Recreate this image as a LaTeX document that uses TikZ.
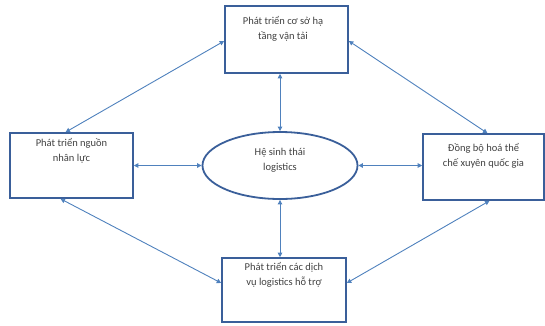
\documentclass[tikz,border=0pt]{standalone}
\usepackage{fontspec}
\setmainfont{Carlito}
\usetikzlibrary{arrows.meta,shapes.geometric}
\definecolor{boxblue}{HTML}{3A5F9A}
\definecolor{arrblue}{HTML}{4F81BD}
\definecolor{txtgray}{HTML}{404040}
\begin{document}
\begin{tikzpicture}[x=1pt,y=-1pt,
  box/.style={draw=boxblue,line width=1.6pt,rectangle,inner sep=0pt},
  eco/.style={draw=boxblue,line width=1.8pt,ellipse,inner sep=0pt,minimum width=155pt,minimum height=67pt},
  lbl/.style={text=txtgray,font=\fontsize{10.5}{15}\selectfont,align=center,inner sep=0pt,anchor=north},
  conn/.style={draw=arrblue,line width=0.9pt,{Triangle[length=4.5pt,width=4.5pt]}-{Triangle[length=4.5pt,width=4.5pt]}}]
\useasboundingbox (0,0) rectangle (545,325);
\node[box,minimum width=123pt,minimum height=67pt] (top) at (286.5,39.5) {};
\node[box,minimum width=123pt,minimum height=65pt] (left) at (71.5,165.5) {};
\node[box,minimum width=121pt,minimum height=66pt] (right) at (483.5,167) {};
\node[box,minimum width=124pt,minimum height=64pt] (bot) at (284,290) {};
\node[eco] (eco) at (280,165.5) {};
\node[lbl] (ttop) at (283,16) {Phát triển cơ sở hạ\\tầng vận tải};
\node[lbl] (tleft) at (71.5,138) {Phát triển nguồn\\nhân lực};
\node[lbl] (teco) at (280,148) {Hệ sinh thái\\logistics};
\node[lbl] (tright) at (483.5,143) {Đồng bộ hoá thể\\chế xuyên quốc gia};
\node[lbl] (tbot) at (284,262) {Phát triển các dịch\\vụ logistics hỗ trợ};
\draw[conn] (top.south -| eco.north) -- (eco.north);
\draw[conn] (eco.south) -- (eco.south |- bot.north);
\draw[conn] (left.east |- eco.west) -- (eco.west);
\draw[conn] (eco.east) -- (eco.east -| right.west);
\draw[conn] ([yshift=-1.5pt]top.west) -- ([xshift=-6pt]left.north);
\draw[conn] ([yshift=-1.5pt]top.east) -- ([xshift=4pt]right.north);
\draw[conn] ([xshift=-11pt]left.south) -- ([yshift=7pt]bot.west);
\draw[conn] ([xshift=6pt]right.south) -- ([yshift=7pt]bot.east);
\end{tikzpicture}
\end{document}
